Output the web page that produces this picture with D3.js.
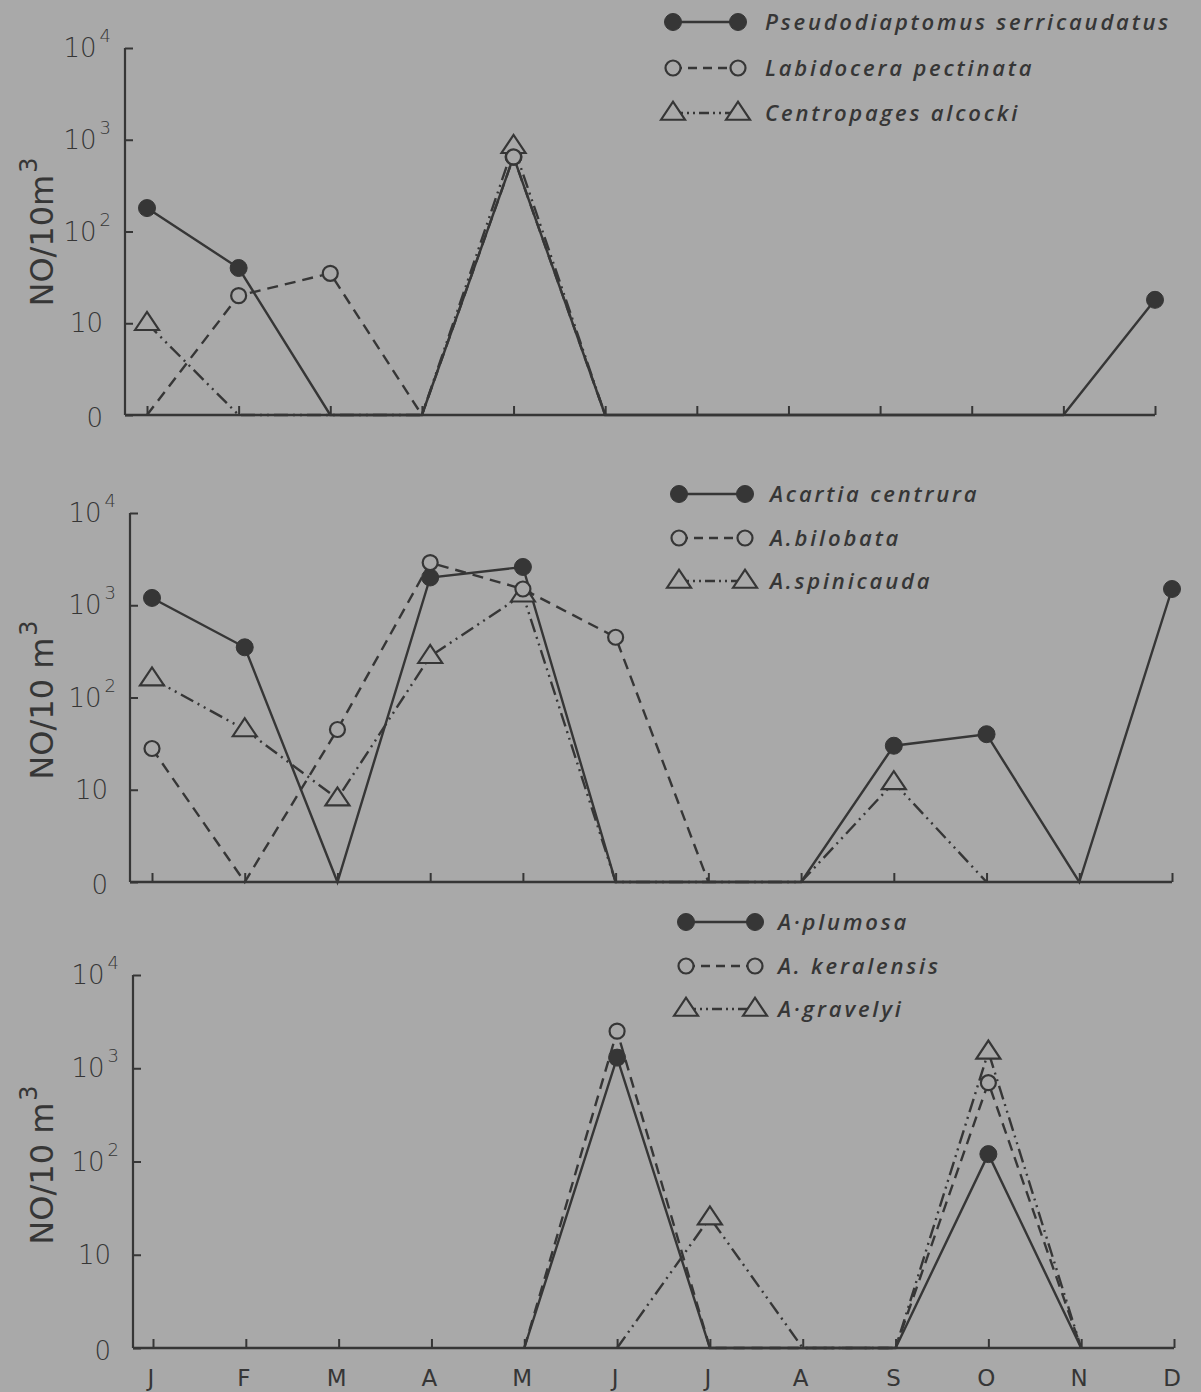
<!DOCTYPE html>
<html>
<head>
<meta charset="utf-8">
<script src="https://cdn.jsdelivr.net/npm/d3@7"></script>
<style>
  html, body { margin: 0; padding: 0; background: #a9a9a9; }
  svg { display: block; }
</style>
</head>
<body>
<svg id="chart" width="1201" height="1392"></svg>
<script>
// ---------- DATA ----------
const months = ["J","F","M","A","M","J","J","A","S","O","N","D"];
const yTickValues = [0, 10, 100, 1000, 10000];
const yTickLabels = [["0",""],["10",""],["10","2"],["10","3"],["10","4"]];

// Panel 1
const p1Names = ["Pseudodiaptomus serricaudatus", "Labidocera pectinata", "Centropages alcocki"];
const pseudodiaptomus = [180, 40, 0, 0, 650, 0, 0, 0, 0, 0, 0, 18];
const labidocera      = [0, 20, 35, 0, 650, 0, null, null, null, null, null, null];
const centropages     = [10, 0, 0, 0, 850, 0, null, null, null, null, null, null];

// Panel 2
const p2Names = ["Acartia centrura", "A.bilobata", "A.spinicauda"];
const acartiaCentrura = [1200, 350, 0, 2000, 2600, 0, 0, 0, 30, 40, 0, 1500];
const bilobata        = [28, 0, 45, 2900, 1500, 450, 0, null, null, null, null, null];
const spinicauda      = [160, 45, 8, 280, 1300, 0, 0, 0, 12, 0, null, null];

// Panel 3
const p3Names = ["A\u00B7plumosa", "A. keralensis", "A\u00B7gravelyi"];
const plumosa    = [null, null, null, null, 0, 1300, 0, 0, 0, 120, 0, null];
const keralensis = [null, null, null, null, 0, 2500, 0, 0, 0, 700, 0, null];
const gravelyi   = [null, null, null, null, null, 0, 25, 0, 0, 1500, 0, null];

// ---------- STYLE / LAYOUT ----------
const BG = "#a9a9a9";
const INK = "#363636";
const styles = [
  { marker: "filled",   dash: null },
  { marker: "open",     dash: "11,7" },
  { marker: "triangle", dash: "14,5,2,5,2,5" }
];

const panels = [
  { names: p1Names, series: [pseudodiaptomus, labidocera, centropages],
    axisX: 125, top: 48, bottom: 415, xFirst: 147, xLast: 1155,
    ylabel: ["NO/10m", "3"], ylabelY: 232,
    legend: { x1: 673, x2: 738, tx: 765, ys: [22, 68, 113] }, monthLabels: false },
  { names: p2Names, series: [acartiaCentrura, bilobata, spinicauda],
    axisX: 130, top: 513, bottom: 882, xFirst: 152, xLast: 1172,
    ylabel: ["NO/10 m", "3"], ylabelY: 700,
    legend: { x1: 679, x2: 745, tx: 770, ys: [494, 538, 581] }, monthLabels: false },
  { names: p3Names, series: [plumosa, keralensis, gravelyi],
    axisX: 133, top: 975, bottom: 1348, xFirst: 153, xLast: 1174,
    ylabel: ["NO/10 m", "3"], ylabelY: 1165,
    legend: { x1: 686, x2: 755, tx: 778, ys: [922, 966, 1009] }, monthLabels: true }
];

const svg = d3.select("#chart");
svg.append("rect").attr("width", 1201).attr("height", 1392).attr("fill", BG);

function drawMarker(g, type, cx, cy) {
  if (type === "filled") {
    g.append("circle").attr("cx", cx).attr("cy", cy).attr("r", 8.5)
      .attr("fill", INK).attr("stroke", INK).attr("stroke-width", 1);
  } else if (type === "open") {
    g.append("circle").attr("cx", cx).attr("cy", cy).attr("r", 7.5)
      .attr("fill", BG).attr("stroke", INK).attr("stroke-width", 2.2);
  } else {
    const w = 12, h = 15;
    g.append("path")
      .attr("d", `M${cx - w},${cy + h * 0.45} L${cx},${cy - h * 0.75} L${cx + w},${cy + h * 0.45} Z`)
      .attr("fill", BG).attr("stroke", INK).attr("stroke-width", 2.2).attr("stroke-linejoin", "miter");
  }
}

panels.forEach(p => {
  const g = svg.append("g");
  const x = d3.scalePoint().domain(d3.range(12)).range([p.xFirst, p.xLast]);
  const y = d3.scaleLog().domain([1, 10000]).range([p.bottom, p.top]);
  const yv = v => y(Math.max(v, 1));

  // y axis (ticks pointing inward)
  const yAxis = d3.axisRight(y).tickValues(yTickValues.map(v => Math.max(v, 1)))
    .tickSize(8).tickFormat("");
  const ya = g.append("g").attr("transform", `translate(${p.axisX},0)`).call(yAxis);
  ya.select(".domain").remove();
  ya.selectAll(".tick line").attr("stroke", INK).attr("stroke-width", 2);
  g.append("line").attr("x1", p.axisX).attr("x2", p.axisX)
    .attr("y1", p.top).attr("y2", p.bottom)
    .attr("stroke", INK).attr("stroke-width", 2.2);

  // x axis (ticks pointing up)
  const xAxis = d3.axisTop(x).tickSize(9).tickFormat("");
  const xa = g.append("g").attr("transform", `translate(0,${p.bottom})`).call(xAxis);
  xa.select(".domain").remove();
  xa.selectAll(".tick line").attr("stroke", INK).attr("stroke-width", 2);
  g.append("line").attr("x1", p.axisX).attr("x2", x(11))
    .attr("y1", p.bottom).attr("y2", p.bottom)
    .attr("stroke", INK).attr("stroke-width", 2.6);

  // y tick labels
  yTickValues.forEach((v, i) => {
    const [base, sup] = yTickLabels[i];
    const t = g.append("text")
      .attr("x", sup ? p.axisX - 14 : p.axisX - 22)
      .attr("y", yv(v) + (i === 0 ? 12 : 9))
      .attr("text-anchor", "end")
      .attr("font-family", "'DejaVu Sans', sans-serif")
      .attr("font-size", 26)
      .attr("font-weight", 300)
      .attr("fill", INK)
      .text(base);
    if (sup) {
      t.append("tspan").attr("dy", -15).attr("dx", 3).attr("font-size", 18).text(sup);
    }
  });

  // y label
  const yl = g.append("text")
    .attr("transform", `translate(53,${p.ylabelY}) rotate(-90)`)
    .attr("text-anchor", "middle")
    .attr("font-family", "'DejaVu Sans', sans-serif")
    .attr("font-size", 32)
    .attr("fill", INK)
    .text(p.ylabel[0]);
  yl.append("tspan").attr("dy", -16).attr("dx", 2).attr("font-size", 24).text(p.ylabel[1]);

  // month labels
  if (p.monthLabels) {
    g.selectAll(".month").data(months).enter().append("text")
      .attr("x", (d, i) => x(i) - 2)
      .attr("y", 1386)
      .attr("text-anchor", "middle")
      .attr("font-family", "'DejaVu Sans', sans-serif")
      .attr("font-size", 23)
      .attr("fill", INK)
      .text(d => d);
  }

  // lines
  p.series.forEach((s, si) => {
    const line = d3.line()
      .defined(d => d != null)
      .x((d, i) => x(i))
      .y(d => yv(d));
    g.append("path").datum(s)
      .attr("d", line)
      .attr("fill", "none")
      .attr("stroke", INK)
      .attr("stroke-width", 2.4)
      .attr("stroke-dasharray", styles[si].dash);
  });

  // markers, drawn in order: filled, triangle, open
  [0, 2, 1].forEach(si => {
    p.series[si].forEach((v, i) => {
      if (v != null && v > 0) drawMarker(g, styles[si].marker, x(i), yv(v));
    });
  });

  // legend
  const L = p.legend;
  p.names.forEach((name, si) => {
    const ly = L.ys[si];
    g.append("line").attr("x1", L.x1).attr("x2", L.x2).attr("y1", ly).attr("y2", ly)
      .attr("stroke", INK).attr("stroke-width", 2.4)
      .attr("stroke-dasharray", si === 0 ? null : (si === 1 ? "9,6" : "10,4,2,4,2,4"));
    drawMarker(g, styles[si].marker, L.x1, ly);
    drawMarker(g, styles[si].marker, L.x2, ly);
    g.append("text")
      .attr("x", L.tx).attr("y", ly + 8)
      .attr("font-family", "'Open Sans', sans-serif")
      .attr("font-style", "italic")
      .attr("font-weight", 600)
      .attr("font-size", 22)
      .attr("letter-spacing", 2.8)
      .attr("fill", INK)
      .text(name);
  });
});
</script>
</body>
</html>
